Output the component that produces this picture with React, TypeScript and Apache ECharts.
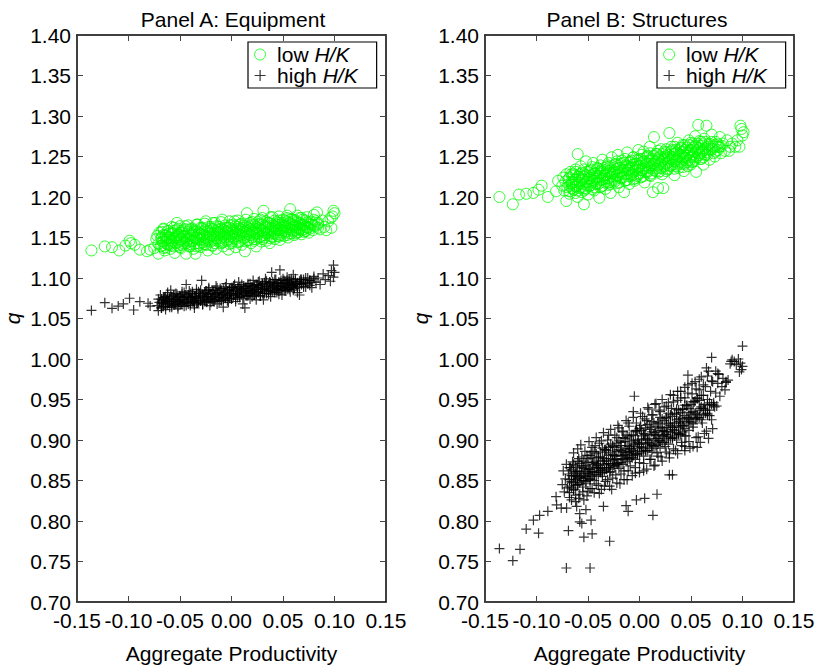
import React, { useEffect, useRef } from "react";
import * as echarts from "echarts";

// ---------- data ----------
const panelTitles = ["Panel A: Equipment", "Panel B: Structures"];
const xAxisTitle = "Aggregate Productivity";
const yAxisTitle = "q";
const seriesNames = ["low H/K", "high H/K"];

// scattered points [x, q]
const lowEquipment: number[][] = [
  [-0.136,1.134],[-0.123,1.139],[-0.116,1.138],[-0.109,1.134],[-0.103,1.140],[-0.099,1.146],[-0.0976,1.143],[-0.094,1.141],[-0.089,1.135],[-0.082,1.133],[-0.079,1.135],[-0.071,1.130],
  [-0.075,1.137],[-0.073,1.148],[-0.072,1.152],[-0.071,1.142],[-0.070,1.156],[-0.069,1.139],[-0.068,1.150],[-0.067,1.145],[-0.066,1.160],[-0.065,1.134],[-0.064,1.153],[-0.063,1.147],[-0.062,1.141],[-0.061,1.158],[-0.060,1.150],[-0.059,1.136],[-0.058,1.144],[-0.057,1.155],[-0.056,1.162],[-0.055,1.131],[-0.054,1.149],[-0.053,1.168],[-0.052,1.140],[-0.051,1.153],[-0.050,1.146],
  [-0.049,1.137],[-0.048,1.158],[-0.047,1.143],[-0.046,1.151],[-0.045,1.164],[-0.044,1.130],[-0.043,1.147],[-0.042,1.155],[-0.041,1.139],[-0.040,1.160],[-0.039,1.152],[-0.038,1.145],[-0.037,1.136],[-0.036,1.157],[-0.035,1.130],[-0.034,1.149],[-0.033,1.166],[-0.032,1.143],[-0.031,1.155],[-0.030,1.138],[-0.029,1.161],[-0.028,1.148],[-0.027,1.153],[-0.026,1.141],[-0.025,1.170],
  [-0.024,1.146],[-0.023,1.134],[-0.022,1.158],[-0.021,1.151],[-0.020,1.163],[-0.019,1.140],[-0.018,1.155],[-0.017,1.147],[-0.016,1.168],[-0.015,1.136],[-0.014,1.153],[-0.013,1.160],[-0.012,1.144],[-0.011,1.157],[-0.010,1.149],[-0.009,1.172],[-0.008,1.139],[-0.007,1.154],[-0.006,1.162],[-0.005,1.146],[-0.004,1.158],[-0.003,1.135],[-0.002,1.151],[-0.001,1.165],[0.000,1.143],
  [0.001,1.156],[0.002,1.149],[0.003,1.170],[0.004,1.138],[0.005,1.160],[0.006,1.152],[0.007,1.145],[0.008,1.166],[0.009,1.157],[0.010,1.141],[0.011,1.162],[0.012,1.150],[0.013,1.133],[0.014,1.158],[0.015,1.180],[0.016,1.147],[0.017,1.164],[0.018,1.153],[0.019,1.143],[0.020,1.169],[0.021,1.156],[0.022,1.148],[0.023,1.161],[0.024,1.139],[0.025,1.155],
  [0.026,1.166],[0.027,1.150],[0.028,1.172],[0.029,1.145],[0.030,1.159],[0.031,1.183],[0.032,1.153],[0.033,1.163],[0.034,1.146],[0.035,1.168],[0.036,1.157],[0.037,1.143],[0.038,1.161],[0.039,1.151],[0.040,1.175],[0.041,1.155],[0.042,1.148],[0.043,1.166],[0.044,1.159],[0.045,1.152],[0.046,1.171],[0.047,1.147],[0.048,1.162],[0.049,1.156],[0.050,1.168],
  [0.051,1.152],[0.052,1.164],[0.053,1.158],[0.054,1.174],[0.055,1.150],[0.056,1.167],[0.057,1.185],[0.058,1.155],[0.059,1.162],[0.060,1.170],[0.061,1.153],[0.062,1.165],[0.063,1.159],[0.064,1.177],[0.065,1.157],[0.066,1.168],[0.067,1.162],[0.068,1.154],[0.069,1.172],[0.070,1.160],[0.071,1.166],[0.072,1.158],[0.073,1.175],[0.074,1.163],[0.075,1.156],
  [0.077,1.169],[0.079,1.159],[0.080,1.178],[0.081,1.164],[0.083,1.181],[0.084,1.166],[0.086,1.160],[0.088,1.171],[0.090,1.163],[0.092,1.159],[0.094,1.170],[0.096,1.174],[0.097,1.162],[0.098,1.176],[0.099,1.183],[0.100,1.180],
];
// dense core, one row per x: [x, q1, q2, ...]
const lowEquipmentCore: number[][] = [
  [-0.068,1.140,1.149,1.157],[-0.064,1.143,1.152,1.138],[-0.060,1.147,1.155,1.141],[-0.056,1.139,1.150,1.158],[-0.052,1.144,1.153,1.161],
  [-0.048,1.148,1.141,1.156],[-0.044,1.151,1.143,1.160],[-0.040,1.146,1.154,1.139],[-0.036,1.150,1.142,1.159],[-0.032,1.148,1.156,1.140],
  [-0.028,1.152,1.144,1.162],[-0.024,1.149,1.157,1.141],[-0.020,1.153,1.145,1.161],[-0.016,1.150,1.158,1.143],[-0.012,1.154,1.146,1.163],
  [-0.008,1.151,1.159,1.144],[-0.004,1.155,1.147,1.162],[0.000,1.152,1.160,1.145],[0.004,1.156,1.148,1.164],[0.008,1.153,1.161,1.146],
  [0.012,1.157,1.149,1.165],[0.016,1.154,1.162,1.147],[0.020,1.158,1.150,1.166],[0.024,1.155,1.163,1.148],[0.028,1.159,1.151,1.167],
  [0.032,1.156,1.164,1.150],[0.036,1.160,1.153,1.168],[0.040,1.158,1.165,1.151],[0.044,1.161,1.154,1.169],[0.048,1.159,1.166,1.153],
  [0.052,1.163,1.156,1.171],[0.056,1.160,1.168,1.155],[0.060,1.164,1.158,1.172],[0.064,1.162,1.169,1.156],[0.068,1.166,1.159,1.174],
  [0.072,1.163,1.171,1.158],[0.076,1.167,1.161],[0.080,1.165,1.172],[0.084,1.168,1.162],
  [-0.066,1.145,1.153,1.137,1.161],[-0.062,1.150,1.142,1.158],[-0.058,1.146,1.154,1.140,1.163],[-0.054,1.151,1.143,1.159],[-0.050,1.148,1.156,1.138,1.164],
  [-0.046,1.152,1.145,1.160],[-0.042,1.149,1.157,1.141,1.165],[-0.038,1.153,1.146,1.161],[-0.034,1.150,1.158,1.139,1.166],[-0.030,1.154,1.147,1.162],
  [-0.026,1.151,1.159,1.142,1.167],[-0.022,1.155,1.148,1.163],[-0.018,1.152,1.160,1.140,1.168],[-0.014,1.156,1.149,1.164],[-0.010,1.153,1.161,1.143,1.169],
  [-0.006,1.157,1.150,1.165],[-0.002,1.154,1.162,1.142,1.170],[0.002,1.158,1.151,1.166],[0.006,1.155,1.163,1.144,1.171],[0.010,1.159,1.152,1.167],
  [0.014,1.156,1.164,1.145,1.172],[0.018,1.160,1.153,1.168],[0.022,1.157,1.165,1.146,1.173],[0.026,1.161,1.154,1.169],[0.030,1.158,1.166,1.148,1.174],
  [0.034,1.162,1.155,1.170],[0.038,1.159,1.167,1.149,1.175],[0.042,1.163,1.156,1.171],[0.046,1.160,1.168,1.151,1.176],[0.050,1.165,1.158,1.172],
  [0.054,1.162,1.170,1.153,1.177],[0.058,1.166,1.159,1.173],[0.062,1.163,1.171,1.155],[0.066,1.167,1.160,1.174],[0.070,1.165,1.157],
  [0.074,1.169,1.162],[0.078,1.166],[0.082,1.170],
];

const highEquipment: number[][] = [
  [-0.136,1.060],[-0.123,1.0695],[-0.116,1.0626],[-0.110,1.0654],[-0.105,1.068],[-0.099,1.075],[-0.095,1.0605],[-0.089,1.0708],[-0.081,1.0688],[-0.079,1.0654],[-0.071,1.0597],
  [-0.072,1.066],[-0.071,1.074],[-0.070,1.070],[-0.069,1.079],[-0.068,1.063],[-0.067,1.072],[-0.066,1.068],[-0.065,1.076],[-0.064,1.061],[-0.063,1.073],[-0.062,1.082],[-0.061,1.069],[-0.060,1.075],[-0.059,1.085],[-0.058,1.064],[-0.057,1.071],[-0.056,1.078],[-0.055,1.067],[-0.054,1.074],[-0.053,1.080],[-0.052,1.062],[-0.051,1.071],[-0.050,1.077],
  [-0.049,1.068],[-0.048,1.083],[-0.047,1.073],[-0.046,1.065],[-0.045,1.079],[-0.044,1.092],[-0.043,1.070],[-0.042,1.076],[-0.041,1.084],[-0.040,1.066],[-0.039,1.074],[-0.038,1.080],[-0.037,1.071],[-0.036,1.063],[-0.035,1.077],[-0.034,1.086],[-0.033,1.069],[-0.032,1.075],[-0.031,1.081],[-0.030,1.072],[-0.029,1.097],[-0.028,1.067],[-0.027,1.078],[-0.026,1.073],
  [-0.025,1.084],[-0.024,1.070],[-0.023,1.077],[-0.022,1.088],[-0.021,1.066],[-0.020,1.080],[-0.019,1.074],[-0.018,1.085],[-0.017,1.071],[-0.016,1.079],[-0.015,1.090],[-0.014,1.068],[-0.013,1.082],[-0.012,1.076],[-0.011,1.087],[-0.010,1.072],[-0.009,1.079],[-0.008,1.064],[-0.007,1.083],[-0.006,1.075],[-0.005,1.093],[-0.004,1.078],[-0.003,1.070],[-0.002,1.085],[-0.001,1.081],
  [0.000,1.074],[0.001,1.088],[0.002,1.079],[0.003,1.092],[0.004,1.071],[0.005,1.084],[0.006,1.080],[0.007,1.095],[0.008,1.076],[0.009,1.087],[0.010,1.082],[0.011,1.068],[0.012,1.090],[0.013,1.063],[0.014,1.085],[0.015,1.078],[0.016,1.093],[0.017,1.081],[0.018,1.074],[0.019,1.089],[0.020,1.084],[0.021,1.097],[0.022,1.079],[0.023,1.086],[0.024,1.073],
  [0.025,1.091],[0.026,1.083],[0.027,1.096],[0.028,1.078],[0.029,1.088],[0.030,1.093],[0.031,1.073],[0.032,1.086],[0.033,1.099],[0.034,1.081],[0.035,1.090],[0.036,1.084],[0.037,1.095],[0.038,1.077],[0.039,1.107],[0.040,1.088],[0.041,1.093],[0.042,1.082],[0.043,1.098],[0.044,1.087],[0.045,1.091],[0.046,1.080],[0.047,1.110],[0.048,1.094],[0.049,1.079],
  [0.050,1.089],[0.051,1.097],[0.052,1.085],[0.053,1.093],[0.054,1.101],[0.055,1.088],[0.056,1.095],[0.057,1.083],[0.058,1.099],[0.059,1.091],[0.060,1.104],[0.061,1.087],[0.062,1.096],[0.063,1.092],[0.064,1.082],[0.066,1.079],[0.067,1.098],[0.068,1.094],[0.070,1.089],[0.072,1.100],[0.074,1.093],
  [0.076,1.097],[0.078,1.088],[0.080,1.102],[0.082,1.095],[0.084,1.100],[0.086,1.092],[0.089,1.105],[0.091,1.098],[0.094,1.103],[0.096,1.096],[0.097,1.109],[0.099,1.116],[0.099,1.101],[0.100,1.107],
];
const highEquipmentCore: number[][] = [
  [-0.068,1.068,1.074,1.063],[-0.064,1.071,1.065,1.077],[-0.060,1.069,1.075,1.064],[-0.056,1.073,1.067,1.079],[-0.052,1.070,1.076,1.065],
  [-0.048,1.074,1.068,1.080],[-0.044,1.071,1.077,1.066],[-0.040,1.075,1.069,1.081],[-0.036,1.072,1.078,1.067],[-0.032,1.076,1.070,1.083],
  [-0.028,1.074,1.080,1.068],[-0.024,1.077,1.071,1.084],[-0.020,1.075,1.081,1.070],[-0.016,1.079,1.073,1.085],[-0.012,1.076,1.082,1.071],
  [-0.008,1.080,1.074,1.087],[-0.004,1.078,1.084,1.072],[0.000,1.081,1.075,1.088],[0.004,1.079,1.086,1.074],[0.008,1.083,1.077,1.089],
  [0.012,1.080,1.087,1.075],[0.016,1.084,1.078,1.091],[0.020,1.082,1.089,1.077],[0.024,1.086,1.080,1.092],[0.028,1.083,1.090,1.078],
  [0.032,1.087,1.081,1.094],[0.036,1.085,1.092,1.080],[0.040,1.089,1.083,1.095],[0.044,1.086,1.093,1.082],[0.048,1.090,1.085,1.097],
  [0.052,1.088,1.095,1.084],[0.056,1.092,1.086,1.098],[0.060,1.090,1.096,1.085],[0.064,1.094,1.088],[0.068,1.092,1.098],
  [0.072,1.095,1.089],[0.076,1.097,1.091],[0.080,1.099],
  [-0.066,1.070,1.076,1.065],[-0.062,1.073,1.067,1.079],[-0.058,1.071,1.077,1.066],[-0.054,1.074,1.068,1.081],[-0.050,1.072,1.078,1.067],
  [-0.046,1.076,1.070,1.082],[-0.042,1.073,1.079,1.068],[-0.038,1.077,1.071,1.083],[-0.034,1.075,1.081,1.069],[-0.030,1.078,1.072,1.085],
  [-0.026,1.076,1.082,1.071],[-0.022,1.080,1.074,1.086],[-0.018,1.077,1.083,1.072],[-0.014,1.081,1.075,1.088],[-0.010,1.079,1.085,1.073],
  [-0.006,1.082,1.076,1.089],[-0.002,1.080,1.086,1.075],[0.002,1.084,1.078,1.090],[0.006,1.081,1.088,1.076],[0.010,1.085,1.079,1.092],
  [0.014,1.083,1.089,1.078],[0.018,1.087,1.081,1.093],[0.022,1.084,1.091,1.079],[0.026,1.088,1.082,1.095],[0.030,1.086,1.092,1.081],
  [0.034,1.090,1.084,1.096],[0.038,1.087,1.094,1.083],[0.042,1.091,1.085,1.098],[0.046,1.089,1.095,1.084],[0.050,1.093,1.087,1.099],
  [0.054,1.091,1.097,1.086],[0.058,1.094,1.089],[0.062,1.093,1.099],[0.066,1.096,1.090],[0.070,1.098,1.093],[0.074,1.100],[0.078,1.095],
];

const lowStructures: number[][] = [
  [-0.136,1.200],[-0.123,1.191],[-0.117,1.203],[-0.110,1.204],[-0.103,1.205],[-0.098,1.209],[-0.095,1.214],[-0.089,1.200],[-0.081,1.207],[-0.079,1.220],[-0.071,1.195],[-0.060,1.253],[-0.054,1.191],
  [-0.075,1.214],[-0.074,1.224],[-0.073,1.208],[-0.072,1.219],[-0.071,1.228],[-0.070,1.212],[-0.069,1.222],[-0.068,1.204],[-0.067,1.231],[-0.066,1.216],[-0.065,1.226],[-0.064,1.209],[-0.063,1.221],[-0.062,1.234],[-0.061,1.213],[-0.060,1.200],[-0.059,1.225],[-0.058,1.217],[-0.057,1.238],[-0.056,1.206],[-0.055,1.222],[-0.054,1.229],[-0.053,1.211],[-0.052,1.244],[-0.051,1.219],[-0.050,1.203],
  [-0.049,1.226],[-0.048,1.214],[-0.047,1.234],[-0.046,1.221],[-0.045,1.242],[-0.044,1.208],[-0.043,1.229],[-0.042,1.217],[-0.041,1.236],[-0.040,1.224],[-0.039,1.199],[-0.038,1.231],[-0.037,1.213],[-0.036,1.246],[-0.035,1.222],[-0.034,1.233],[-0.033,1.210],[-0.032,1.227],[-0.031,1.239],[-0.030,1.218],[-0.029,1.230],[-0.028,1.205],[-0.027,1.249],[-0.026,1.225],
  [-0.025,1.232],[-0.024,1.219],[-0.023,1.241],[-0.022,1.227],[-0.021,1.252],[-0.020,1.212],[-0.019,1.236],[-0.018,1.224],[-0.017,1.245],[-0.016,1.230],[-0.015,1.206],[-0.014,1.239],[-0.013,1.221],[-0.012,1.255],[-0.011,1.233],[-0.010,1.216],[-0.009,1.243],[-0.008,1.228],[-0.007,1.237],[-0.006,1.249],[-0.005,1.220],[-0.004,1.234],[-0.003,1.241],[-0.002,1.226],[-0.001,1.258],
  [0.000,1.238],[0.001,1.224],[0.002,1.247],[0.003,1.233],[0.004,1.256],[0.005,1.218],[0.006,1.243],[0.007,1.230],[0.008,1.251],[0.009,1.237],[0.010,1.262],[0.011,1.226],[0.012,1.245],[0.013,1.206],[0.014,1.274],[0.015,1.240],[0.016,1.232],[0.017,1.253],[0.018,1.211],[0.019,1.246],[0.020,1.236],[0.021,1.259],[0.022,1.228],[0.023,1.211],[0.024,1.249],
  [0.025,1.242],[0.026,1.255],[0.027,1.234],[0.028,1.248],[0.029,1.279],[0.030,1.239],[0.031,1.262],[0.032,1.246],[0.033,1.253],[0.034,1.227],[0.035,1.258],[0.036,1.244],[0.037,1.267],[0.038,1.236],[0.039,1.251],[0.040,1.260],[0.041,1.241],[0.042,1.256],[0.043,1.232],[0.044,1.264],[0.045,1.248],[0.046,1.254],[0.047,1.238],[0.048,1.270],[0.049,1.245],
  [0.050,1.258],[0.051,1.243],[0.052,1.266],[0.053,1.250],[0.054,1.275],[0.055,1.231],[0.056,1.261],[0.057,1.289],[0.058,1.254],[0.059,1.247],[0.060,1.268],[0.061,1.257],[0.062,1.240],[0.063,1.272],[0.065,1.288],[0.066,1.252],[0.067,1.264],[0.068,1.246],[0.070,1.277],[0.071,1.259],[0.073,1.250],[0.074,1.268],
  [0.076,1.262],[0.078,1.274],[0.079,1.254],[0.081,1.266],[0.083,1.257],[0.085,1.270],[0.087,1.257],[0.088,1.262],[0.090,1.266],[0.093,1.262],[0.095,1.270],[0.097,1.262],[0.098,1.288],[0.099,1.284],[0.100,1.276],[0.101,1.280],
];
const lowStructuresCore: number[][] = [
  [-0.068,1.214,1.224,1.207],[-0.064,1.218,1.209,1.228],[-0.060,1.215,1.225,1.208],[-0.056,1.221,1.212,1.230],[-0.052,1.218,1.227,1.210],
  [-0.048,1.223,1.214,1.232],[-0.044,1.220,1.229,1.212],[-0.040,1.226,1.216,1.235],[-0.036,1.222,1.231,1.214],[-0.032,1.228,1.219,1.237],
  [-0.028,1.225,1.233,1.216],[-0.024,1.230,1.221,1.240],[-0.020,1.227,1.236,1.218],[-0.016,1.233,1.224,1.242],[-0.012,1.229,1.238,1.221],
  [-0.008,1.235,1.226,1.245],[-0.004,1.232,1.241,1.223],[0.000,1.238,1.229,1.247],[0.004,1.235,1.244,1.226],[0.008,1.241,1.232,1.250],
  [0.012,1.238,1.247,1.229],[0.016,1.244,1.235,1.253],[0.020,1.241,1.250,1.232],[0.024,1.247,1.238,1.256],[0.028,1.243,1.252,1.235],
  [0.032,1.249,1.240,1.258],[0.036,1.246,1.255,1.238],[0.040,1.252,1.243,1.261],[0.044,1.249,1.258,1.241],[0.048,1.255,1.246,1.264],
  [0.052,1.252,1.261,1.244],[0.056,1.258,1.249,1.266],[0.060,1.255,1.263,1.247],[0.064,1.260,1.252,1.268],[0.068,1.258,1.266],
  [0.072,1.262,1.254],[0.076,1.265,1.258],[0.080,1.263],
  [-0.066,1.219,1.211,1.228],[-0.062,1.222,1.213,1.231,1.205],[-0.058,1.220,1.228,1.211],[-0.054,1.225,1.216,1.234,1.208],[-0.050,1.222,1.231,1.214],
  [-0.046,1.227,1.218,1.237,1.210],[-0.042,1.225,1.233,1.216],[-0.038,1.229,1.221,1.239,1.212],[-0.034,1.227,1.236,1.218],[-0.030,1.232,1.223,1.242,1.215],
  [-0.026,1.230,1.238,1.221],[-0.022,1.235,1.226,1.244,1.217],[-0.018,1.232,1.241,1.223],[-0.014,1.237,1.228,1.247,1.220],[-0.010,1.235,1.243,1.226],
  [-0.006,1.240,1.231,1.249,1.222],[-0.002,1.237,1.246,1.228],[0.002,1.242,1.233,1.252,1.225],[0.006,1.240,1.248,1.231],[0.010,1.245,1.236,1.254,1.227],
  [0.014,1.242,1.251,1.233],[0.018,1.248,1.239,1.257,1.230],[0.022,1.245,1.253,1.236],[0.026,1.250,1.241,1.259,1.232],[0.030,1.247,1.256,1.238],
  [0.034,1.253,1.244,1.262,1.235],[0.038,1.250,1.258,1.241],[0.042,1.255,1.247,1.264,1.237],[0.046,1.252,1.261,1.243],[0.050,1.258,1.249,1.267,1.240],
  [0.054,1.255,1.263,1.246],[0.058,1.260,1.252,1.269],[0.062,1.258,1.265,1.249],[0.066,1.262,1.255],[0.070,1.260,1.268],[0.074,1.264,1.256],[0.078,1.262],
];

const highStructures: number[][] = [
  [-0.136,0.766],[-0.123,0.751],[-0.116,0.765],[-0.110,0.790],[-0.098,0.785],[-0.103,0.801],[-0.097,0.807],[-0.089,0.812],[-0.081,0.830],[-0.071,0.742],[-0.069,0.788],[-0.054,0.780],[-0.046,0.784],[-0.048,0.742],[-0.029,0.775],[0.013,0.807],[0.017,0.833],[-0.005,0.954],[0.070,1.002],[0.100,1.016],[0.100,0.991],[0.089,0.997],[0.084,0.971],[0.066,0.931],[0.056,0.891],[0.029,0.857],[-0.013,0.819],[-0.011,0.812],[0.005,0.828],[-0.076,0.816],[-0.058,0.799],[-0.052,0.814],[-0.035,0.818],
  [-0.0805,0.820],[-0.0708,0.816],[-0.061,0.818],[-0.058,0.809],[-0.056,0.797],[-0.047,0.801],[-0.003,0.826],
  [-0.075,0.845],[-0.074,0.862],[-0.073,0.836],[-0.072,0.852],[-0.071,0.870],[-0.070,0.841],[-0.069,0.858],[-0.068,0.829],[-0.067,0.866],[-0.066,0.848],[-0.065,0.873],[-0.064,0.838],[-0.063,0.856],[-0.062,0.824],[-0.061,0.861],[-0.060,0.845],[-0.059,0.877],[-0.058,0.833],[-0.057,0.853],[-0.056,0.868],[-0.055,0.842],[-0.054,0.826],[-0.053,0.859],[-0.052,0.849],[-0.051,0.881],[-0.050,0.837],
  [-0.049,0.864],[-0.048,0.851],[-0.047,0.885],[-0.046,0.840],[-0.045,0.872],[-0.044,0.858],[-0.043,0.893],[-0.042,0.846],[-0.041,0.868],[-0.040,0.879],[-0.039,0.834],[-0.038,0.862],[-0.037,0.899],[-0.036,0.855],[-0.035,0.874],[-0.034,0.843],[-0.033,0.888],[-0.032,0.866],[-0.031,0.851],[-0.030,0.906],[-0.029,0.860],[-0.028,0.877],[-0.027,0.839],[-0.026,0.892],[-0.025,0.869],
  [-0.024,0.881],[-0.023,0.857],[-0.022,0.903],[-0.021,0.870],[-0.020,0.915],[-0.019,0.846],[-0.018,0.893],[-0.017,0.877],[-0.016,0.910],[-0.015,0.862],[-0.014,0.898],[-0.013,0.884],[-0.012,0.851],[-0.011,0.921],[-0.010,0.889],[-0.009,0.868],[-0.008,0.906],[-0.007,0.878],[-0.006,0.935],[-0.005,0.894],[-0.004,0.859],[-0.003,0.912],[-0.002,0.883],[-0.001,0.900],
  [0.000,0.872],[0.001,0.918],[0.002,0.896],[0.003,0.929],[0.004,0.862],[0.005,0.907],[0.006,0.887],[0.007,0.924],[0.008,0.900],[0.009,0.938],[0.010,0.876],[0.011,0.913],[0.012,0.893],[0.013,0.931],[0.014,0.868],[0.015,0.909],[0.016,0.945],[0.017,0.884],[0.018,0.920],[0.019,0.899],[0.020,0.935],[0.021,0.879],[0.022,0.915],[0.023,0.905],[0.024,0.941],
  [0.025,0.892],[0.026,0.928],[0.027,0.910],[0.028,0.946],[0.029,0.883],[0.030,0.921],[0.031,0.939],[0.032,0.903],[0.033,0.955],[0.034,0.916],[0.035,0.887],[0.036,0.933],[0.037,0.949],[0.038,0.908],[0.039,0.926],[0.040,0.960],[0.041,0.897],[0.042,0.938],[0.043,0.918],[0.044,0.952],[0.045,0.905],[0.046,0.943],[0.047,0.968],[0.048,0.925],[0.049,0.890],
  [0.050,0.934],[0.051,0.957],[0.052,0.916],[0.053,0.947],[0.054,0.972],[0.055,0.926],[0.056,0.951],[0.057,0.904],[0.058,0.962],[0.059,0.939],[0.060,0.978],[0.061,0.921],[0.062,0.955],[0.063,0.944],[0.064,0.966],[0.065,0.911],[0.066,0.950],[0.067,0.985],[0.068,0.937],[0.069,0.960],[0.070,0.925],[0.071,0.972],[0.072,0.946],[0.074,0.958],
  [0.075,0.942],[0.076,0.970],[0.077,0.981],[0.078,0.954],[0.080,0.966],[0.081,0.976],[0.083,0.962],[0.086,0.974],[0.088,0.994],[0.090,0.999],[0.092,0.997],[0.094,0.993],[0.096,1.000],[0.097,0.984],[0.098,0.995],[0.099,0.987],
  [0.047,0.980],[0.065,0.989],[0.076,0.982],[0.084,0.972],[0.073,0.941],[0.044,0.892],[0.032,0.857],
  // upper and lower fringe of the cloud
  [-0.064,0.884],[-0.060,0.889],[-0.057,0.894],[-0.053,0.886],[-0.049,0.898],[-0.046,0.891],[-0.042,0.903],[-0.039,0.896],[-0.035,0.909],[-0.031,0.900],[-0.028,0.913],[-0.024,0.906],[-0.021,0.918],[-0.017,0.911],[-0.013,0.924],[-0.010,0.917],[-0.006,0.928],[-0.003,0.921],[0.001,0.933],[0.005,0.926],[0.008,0.940],[0.012,0.931],[0.015,0.944],[0.019,0.937],[0.022,0.950],[0.026,0.942],[0.030,0.956],[0.033,0.947],[0.037,0.960],[0.040,0.952],[0.044,0.965],[0.047,0.958],[0.051,0.970],[0.055,0.963],[0.058,0.975],[0.062,0.968],[0.066,0.979],[0.070,0.973],[0.074,0.985],
  [-0.066,0.826],[-0.062,0.832],[-0.059,0.828],[-0.055,0.836],[-0.051,0.831],[-0.048,0.840],[-0.044,0.835],[-0.040,0.844],[-0.037,0.839],[-0.033,0.849],[-0.029,0.843],[-0.026,0.853],[-0.022,0.847],[-0.018,0.858],[-0.015,0.851],[-0.011,0.862],[-0.007,0.856],[-0.004,0.866],[0.000,0.860],[0.004,0.871],[0.007,0.864],[0.011,0.876],[0.015,0.869],[0.018,0.880],[0.022,0.874],[0.026,0.885],[0.029,0.878],[0.033,0.889],[0.037,0.883],[0.041,0.893],[0.044,0.887],[0.048,0.898],[0.052,0.892],[0.055,0.903],[0.059,0.897],[0.063,0.908],[0.067,0.902],[0.071,0.914],
];
const highStructuresCore: number[][] = [
  [-0.068,0.851,0.843,0.866,0.835],[-0.064,0.859,0.847,0.870,0.839],[-0.060,0.862,0.853,0.874,0.845],[-0.056,0.858,0.850,0.879,0.866],
  [-0.052,0.868,0.855,0.872,0.846],[-0.048,0.864,0.861,0.881,0.852],[-0.044,0.873,0.860,0.886,0.850],[-0.040,0.869,0.866,0.879,0.857],
  [-0.036,0.878,0.863,0.890,0.859],[-0.032,0.874,0.871,0.887,0.864],[-0.028,0.884,0.869,0.895,0.861],[-0.024,0.880,0.876,0.891,0.868],
  [-0.020,0.888,0.872,0.899,0.865],[-0.016,0.885,0.881,0.903,0.870],[-0.012,0.893,0.878,0.906,0.874],[-0.008,0.889,0.886,0.900,0.879],
  [-0.004,0.899,0.883,0.911,0.876],[0.000,0.895,0.892,0.914,0.884],[0.004,0.905,0.889,0.908,0.880],[0.008,0.900,0.897,0.919,0.887],
  [0.012,0.910,0.894,0.923,0.885],[0.016,0.906,0.902,0.917,0.893],[0.020,0.915,0.899,0.928,0.890],[0.024,0.911,0.907,0.924,0.897],
  [0.028,0.920,0.904,0.933,0.895],[0.032,0.916,0.913,0.929,0.902],[0.036,0.925,0.909,0.938,0.900],[0.040,0.921,0.918,0.934,0.907],
  [0.044,0.930,0.914,0.943,0.905],[0.048,0.927,0.923,0.939,0.912],[0.052,0.935,0.920,0.947],[0.056,0.931,0.928,0.952],
  [0.060,0.941,0.925,0.955],[0.064,0.937,0.933],[0.068,0.946,0.930],[0.072,0.943],
  [-0.066,0.856,0.849,0.863,0.841],[-0.062,0.855,0.851,0.868,0.844],[-0.058,0.861,0.854,0.871,0.847],[-0.054,0.865,0.856,0.874,0.850],
  [-0.050,0.863,0.858,0.877,0.853],[-0.046,0.870,0.861,0.878,0.855],[-0.042,0.871,0.866,0.883,0.857],[-0.038,0.875,0.865,0.885,0.860],
  [-0.034,0.877,0.870,0.888,0.862],[-0.030,0.881,0.871,0.891,0.866],[-0.026,0.882,0.875,0.893,0.867],[-0.022,0.886,0.876,0.896,0.871],
  [-0.018,0.887,0.880,0.897,0.872],[-0.014,0.890,0.882,0.902,0.876],[-0.010,0.892,0.885,0.904,0.877],[-0.006,0.896,0.887,0.906,0.881],
  [-0.002,0.897,0.890,0.910,0.882],[0.002,0.901,0.891,0.912,0.886],[0.006,0.902,0.895,0.915,0.887],[0.010,0.906,0.896,0.916,0.890],
  [0.014,0.907,0.900,0.921,0.892],[0.018,0.911,0.902,0.922,0.895],[0.022,0.912,0.905,0.926,0.897],[0.026,0.916,0.907,0.927,0.900],
  [0.030,0.918,0.910,0.931,0.902],[0.034,0.921,0.912,0.932,0.905],[0.038,0.923,0.916,0.937,0.907],[0.042,0.927,0.917,0.938,0.910],
  [0.046,0.928,0.921,0.942],[0.050,0.932,0.922,0.944],[0.054,0.933,0.926,0.948],[0.058,0.937,0.928,0.949],[0.062,0.939,0.931],
  [0.066,0.943,0.933],[0.070,0.944],
];

const xRange = { min: -0.15, max: 0.15, interval: 0.05 };
const yRange = { min: 0.7, max: 1.4, interval: 0.05 };

// ---------- styling ----------
const FONT = "'Liberation Sans', Arial, Helvetica, sans-serif";
const FS = 21;
const GREEN = "#00ff00";
const PLUS = "path://M0,5L10,5M5,0L5,10";
const gridLefts = [77, 485];
const titleCenters = [228, 632];
const legendLefts = [248, 657];
const GRID_W = 309;
const GRID_TOP = 35;
const GRID_H = 567;

const expand = (rows: number[][]) => {
  const out: number[][] = [];
  rows.forEach((r) => {
    for (let i = 1; i < r.length; i++) out.push([r[0], r[i]]);
  });
  return out;
};

export default function App() {
  const ref = useRef<HTMLDivElement>(null);

  useEffect(() => {
    if (!ref.current) return;
    const chart = echarts.init(ref.current, null, { renderer: "svg" });

    const fmt = (v: number) => v.toFixed(2);
    const axisLine = { show: true, onZero: false, lineStyle: { color: "#000", width: 1.5 } };
    const tick = { show: true, inside: true, length: 6, lineStyle: { color: "#444", width: 1 } };

    const xAxes: any[] = [];
    const yAxes: any[] = [];
    [0, 1].forEach((g) => {
      xAxes.push({
        type: "value", gridIndex: g, position: "bottom", ...xRange,
        axisLine, axisTick: tick, splitLine: { show: false },
        axisLabel: { formatter: fmt, fontFamily: FONT, fontSize: FS, color: "#000", margin: 8, showMinLabel: true, showMaxLabel: true },
        name: xAxisTitle, nameLocation: "middle", nameGap: 41,
        nameTextStyle: { fontFamily: FONT, fontSize: FS, color: "#000" },
      });
      yAxes.push({
        type: "value", gridIndex: g, position: "left", ...yRange,
        axisLine, axisTick: tick, splitLine: { show: false },
        axisLabel: { formatter: fmt, fontFamily: FONT, fontSize: FS, color: "#000", margin: 6, showMinLabel: true, showMaxLabel: true },
        name: yAxisTitle, nameLocation: "middle", nameGap: 54,
        nameTextStyle: { fontFamily: FONT, fontSize: FS, color: "#000", fontStyle: "italic" },
      });
    });
    [0, 1].forEach((g) => {
      xAxes.push({
        type: "value", gridIndex: g, position: "top", ...xRange,
        axisLine, axisTick: tick, axisLabel: { show: false }, splitLine: { show: false },
      });
      yAxes.push({
        type: "value", gridIndex: g, position: "right", ...yRange,
        axisLine, axisTick: tick, axisLabel: { show: false }, splitLine: { show: false },
      });
    });

    const lowStyle = { color: "transparent", borderColor: GREEN, borderWidth: 1 };
    const highStyle = { color: "transparent", borderColor: "#000", borderWidth: 1.2 };

    const mkSeries = (g: number, name: string, data: number[][], high: boolean) => ({
      type: "scatter", name, xAxisIndex: g, yAxisIndex: g, data,
      symbol: high ? PLUS : "circle", symbolSize: high ? 10 : 11,
      itemStyle: high ? highStyle : lowStyle,
      emphasis: { disabled: true },
      z: high ? 3 : 2,
    });

    const legends = legendLefts.map((l) => ({
      orient: "vertical",
      left: l,
      top: 42,
      padding: [2, 19, 2, 6],
      itemGap: 0,
      itemWidth: 24,
      itemHeight: 11,
      borderColor: "#000",
      borderWidth: 1.2,
      backgroundColor: "#fff",
      selectedMode: false,
      data: [
        { name: seriesNames[0], icon: "circle", itemStyle: lowStyle },
        { name: seriesNames[1], icon: PLUS, itemStyle: highStyle },
      ],
      formatter: (name: string) =>
        name === seriesNames[0] ? "{a|low }{b|H/K}" : "{a|high }{b|H/K}",
      textStyle: {
        fontFamily: FONT, fontSize: FS, color: "#000",
        rich: {
          a: { fontFamily: FONT, fontSize: FS, color: "#000", lineHeight: 21 },
          b: { fontFamily: FONT, fontSize: FS, color: "#000", fontStyle: "italic", lineHeight: 21 },
        },
      },
    }));

    chart.setOption({
      animation: false,
      backgroundColor: "#fff",
      title: titleCenters.map((c, g) => ({
        text: panelTitles[g],
        left: c,
        top: 4,
        textAlign: "center",
        textStyle: { fontFamily: FONT, fontSize: FS, fontWeight: "normal", color: "#000" },
      })),
      legend: legends,
      grid: gridLefts.map((l) => ({ left: l, top: GRID_TOP, width: GRID_W, height: GRID_H, containLabel: false })),
      xAxis: xAxes,
      yAxis: yAxes,
      series: [
        mkSeries(0, seriesNames[0], lowEquipment.concat(expand(lowEquipmentCore)), false),
        mkSeries(0, seriesNames[1], highEquipment.concat(expand(highEquipmentCore)), true),
        mkSeries(1, seriesNames[0], lowStructures.concat(expand(lowStructuresCore)), false),
        mkSeries(1, seriesNames[1], highStructures.concat(expand(highStructuresCore)), true),
      ],
    });

    return () => chart.dispose();
  }, []);

  return (
    <div
      ref={ref}
      style={{ position: "fixed", left: 0, top: 0, width: 824, height: 670, background: "#fff" }}
    />
  );
}
